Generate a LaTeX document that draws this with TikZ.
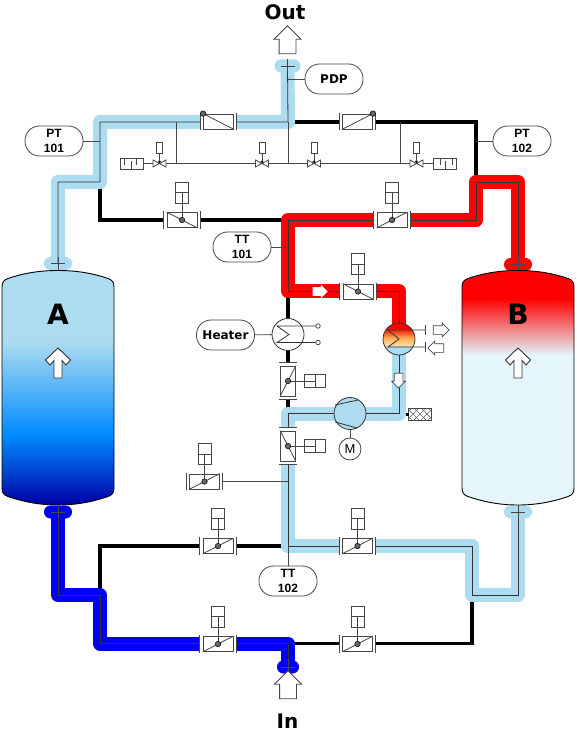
\documentclass[tikz,border=0pt]{standalone}
\usepackage{fontspec}
\setmainfont{Liberation Sans}
\newfontfamily\titlefont{DejaVu Sans}
\usetikzlibrary{positioning,shapes.arrows}

\definecolor{pipelight}{RGB}{173,220,240}
\definecolor{pipered}{RGB}{255,0,0}
\definecolor{pipeblue}{RGB}{0,0,245}
\definecolor{tankpale}{RGB}{228,245,252}
\definecolor{tankmid}{RGB}{0,140,255}
\definecolor{tanknavy}{RGB}{0,0,165}
\definecolor{hxorange}{RGB}{250,170,80}
\definecolor{hxtan}{RGB}{250,220,160}
\definecolor{wire}{RGB}{70,70,70}

\pgfdeclareverticalshading{tankcold}{100bp}{color(0bp)=(tanknavy); color(25bp)=(tanknavy); color(40bp)=(tankmid); color(60bp)=(pipelight); color(100bp)=(pipelight)}
\pgfdeclareverticalshading{tankhot}{100bp}{color(0bp)=(tankpale); color(57bp)=(tankpale); color(69bp)=(pipered); color(100bp)=(pipered)}
\pgfdeclareverticalshading{hxhot}{100bp}{color(0bp)=(pipelight); color(37bp)=(pipelight); color(41bp)=(hxtan); color(52bp)=(hxorange); color(67bp)=(pipered); color(100bp)=(pipered)}

\tikzset{
	pipeband/.style={line width=14pt, line join=round},
	pipeline/.style={line width=.8pt, draw=black!80, line join=miter},
	blackpipe/.style={line width=3.2pt, line join=miter},
	thinline/.style={line width=.8pt, draw=wire},
	valvegap/.style={fill=white, minimum width=36pt, minimum height=17pt, inner sep=0pt},
	valvebody/.style={draw=wire, line width=.8pt, fill=white, minimum width=30pt, minimum height=15pt, inner sep=0pt},
	valvedot/.style={circle, draw=black, fill=black!60, line width=.5pt, minimum size=5.5pt, inner sep=0pt},
	actbox/.style={draw=wire, line width=.8pt, fill=white, minimum width=13pt, minimum height=21pt, inner sep=0pt},
	smallact/.style={draw=wire, line width=.8pt, fill=white, minimum width=6pt, minimum height=11pt, inner sep=0pt},
	silencer/.style={draw=wire, line width=.8pt, fill=white, minimum width=23pt, minimum height=11pt, inner sep=0pt},
	pipecap/.style={rounded corners=6.4pt, minimum height=13pt, inner sep=0pt},
	tagbox/.style={draw=wire, line width=.8pt, fill=white, rounded corners=14.5pt, minimum width=58pt, minimum height=30pt, inner sep=0pt, align=center, font=\fontsize{12}{14.5}\selectfont\bfseries},
	tagwide/.style={tagbox, font=\titlefont\fontsize{12}{14.5}\selectfont\bfseries},
	drum/.style={circle, draw=black!80, line width=.8pt, minimum size=32pt, inner sep=0pt},
	bigarrow/.style={single arrow, draw=wire, line width=.8pt, fill=white, inner xsep=0pt, inner ysep=8pt, minimum height=28pt, single arrow head extend=5pt},
	smallarrow/.style={single arrow, draw=wire, line width=.7pt, fill=white, inner xsep=0pt, inner ysep=4pt, minimum height=15pt, single arrow head extend=2.5pt},
	bigtext/.style={font=\titlefont\fontsize{20}{20}\selectfont\bfseries},
	tanktext/.style={font=\titlefont\fontsize{28}{28}\selectfont\bfseries}
}

\newcommand{\pipe}[2]{\draw[pipeband, draw=#1] #2; \draw[pipeline] #2;}

\begin{document}
\begin{tikzpicture}[x=1pt,y=-1pt]
	\useasboundingbox (0,0) rectangle (577,743);
	\foreach \n/\x/\y/\w/\c in {capout/287.5/66/26/pipelight, capa/58/263.5/28/pipelight, capb/518/264.5/28/pipered, capc/58/512/28/pipeblue, capd/518/512/28/pipelight, capin/288/667/22/pipeblue} \node[pipecap, minimum width=\w pt, fill=\c] (\n) at (\x,\y) {};
	\foreach \n/\x/\y in {cn1/100/122, cn2/100/182, cn3/58/182, cn4/288/122, cn5/476/122, cn6/476/182, cn7/518/182, cn8/476/220, cn9/288/220, cn10/100/220, cn11/288/291, cn12/399/291, cn13/399/413.5, cn14/288/413.5, cn15/288/546, cn16/472/546, cn17/472/595, cn18/518/595, cn19/100/546, cn20/100/595, cn21/58/595, cn22/100/643.5, cn23/288/643.5, cn24/472/643.5, cn25/399/325, cn26/399/353} \coordinate (\n) at (\x,\y);

	\draw[blackpipe] (cn2) -- (cn10) -- (cn9);
	\draw[blackpipe] (cn4) -- (cn5) -- (cn6);
	\draw[blackpipe] (cn11) -- (cn14);
	\draw[blackpipe] (cn20) -- (cn19) -- (cn15);
	\draw[blackpipe] (cn23) -- (cn24) -- (cn17);
	\pipe{pipelight}{(capout.center) -- (cn4) -- (cn1) -- (cn2) -- (cn3) -- (capa.center)}
	\pipe{pipered}{(capb.center) -- (cn7) -- (cn6) -- (cn8) -- (cn9) -- (cn11) -- (cn12) -- (cn25)}
	\pipe{pipelight}{(cn26) -- (cn13) -- (cn14) -- (cn15) -- (cn16) -- (cn17) -- (cn18) -- (capd.center)}
	\pipe{pipeblue}{(capc.center) -- (cn21) -- (cn20) -- (cn22) -- (cn23) -- (capin.center)}
	\foreach \n in {capout,capa,capb,capc,capd,capin} \draw[thinline] (\n.north) -- (\n.south) ([xshift=-7pt]\n.center) -- ([xshift=7pt]\n.center);

	\foreach \n/\x/\s in {a/2/tankcold, b/462/tankhot} {
		\shade[shift={(\x,0)}, shading=\s, draw=black, line width=.9pt] (0,287) .. controls (0,282) and (2,280) .. (6,278.5) .. controls (22,273) and (38,270.5) .. (56,270.5) .. controls (74,270.5) and (90,273) .. (106,278.5) .. controls (110,280) and (112,282) .. (112,287) -- (112,488) .. controls (112,493) and (110,495) .. (106,496.5) .. controls (90,502) and (74,505) .. (56,505) .. controls (38,505) and (22,502) .. (6,496.5) .. controls (2,495) and (0,493) .. (0,488) -- cycle;
	}
	\node[tanktext] (labela) at (58,314) {A};
	\node[tanktext] (labelb) at (518,314) {B};
	\foreach \x in {58,518} \draw[shift={(\x,0)}, draw=black!80, line width=.9pt, fill=white] (0,348) -- (-12.5,360) -- (-8,365) -- (-4,360.5) -- (-4,378) -- (4,378) -- (4,360.5) -- (8,365) -- (12.5,360) -- cycle;

	\node[silencer] (sil1) at (131.5,163.5) {};
	\node[silencer] (sil2) at (444.5,163.5) {};
	\draw[thinline] (sil1) -- (sil2);
	\draw[thinline] (cn4) -- (cn4 |- sil1);
	\foreach \n/\x in {tap1/176, tap2/400} {\coordinate (\n) at (\x,122); \draw[thinline] (\n) -- (\n |- sil1);}
	\foreach \n/\s in {sil1/1, sil2/-1} \draw[thinline, shift={(\n)}, xscale=\s] (-7.5,-5.5) -- ++(0,7) (-0.5,5.5) -- ++(0,-8) (4.5,-5.5) -- ++(0,7);
	\foreach \n/\x in {sv1/159.5, sv2/262, sv3/314, sv4/416.5} {
		\coordinate (\n) at (\x,163.5);
		\node[smallact] (act\n) at (\x,147.5) {};
		\draw[thinline] (act\n) -- (\n);
		\draw[thinline, fill=white, shift={(\n)}] (-6.5,-3.5) -- (6.5,3.5) -- (6.5,-3.5) -- (-6.5,3.5) -- cycle;
		\fill[black, shift={(\n)}] (-1.5,-2.5) -- (1.5,-2.5) -- (0,0) -- cycle;
	}

	\foreach \n/\x/\y/\r/\p/\q in {tl/218.5/121.5/0/north west/south east, tr/357.5/121.5/0/south west/north east, lr/182/220/0/north west/south east, rr/392/220/0/south west/north east, hv/358/291.5/0/north west/south east, br/204.5/481.5/0/south west/north east, ml/218/546/0/south west/north east, mr/357.5/546/0/south west/north east, ll/218/644/0/south west/north east, lq/357.5/644/0/south west/north east, sa/288/381/90/north west/south east, sb/288/446/90/north east/south west} {
		\node[valvegap, rotate=\r] (g\n) at (\x,\y) {};
		\node[valvebody, rotate=\r] (v\n) at (\x,\y) {};
		\draw[thinline] (g\n.north west) -- (g\n.south west) (g\n.north east) -- (g\n.south east);
		\draw[thinline] (v\n.\p) -- (v\n.\q);
	}
	\foreach \n in {lr,rr,hv,br,ml,mr,ll,lq} {
		\node[actbox, above=8.5pt of v\n] (a\n) {};
		\draw[thinline] (a\n.west) -- (a\n.east) (a\n.center) -- (v\n.center);
	}
	\foreach \n in {sa,sb} {
		\node[actbox, rotate=90] (a\n) at ([xshift=27pt]v\n.center) {};
		\draw[thinline] (a\n.west) -- (a\n.east) (a\n.center) -- (v\n.center);
	}
	\foreach \n/\o in {tl/north west, tr/north east, lr/center, rr/center, hv/center, br/center, ml/center, mr/center, ll/center, lq/center, sa/center, sb/center} \node[valvedot] (d\n) at (v\n.\o) {};
	\draw[thinline] (gbr.east) -- (gbr.east -| cn14);

	\node[drum, fill=white] (heater) at (288,334.5) {};
	\draw[thinline, draw=black!80] (316,326) -- (277,326) -- (289,334.5) -- (277,342.5) -- (316,342.5);
	\foreach \n/\y in {ta/326, tb/342.5} \node[circle, draw=wire, fill=white, line width=.8pt, minimum size=4.5pt, inner sep=0pt] (\n) at (318,\y) {};
	\node[drum, shading=hxhot] (cooler) at (399,339) {};
	\draw[thinline, draw=black!80] (425,330) -- (388,330) -- (399,339) -- (388,347) -- (425,347);
	\draw[thinline] (425,325) -- (425,335) (425,342) -- (425,352);

	\node[drum, fill=pipelight] (comp) at (350,413.5) {};
	\draw[thinline, draw=black!80] (335,405) -- (358,400) (335,422) -- (357,428);
	\node[drum, minimum size=22pt, fill=white, draw=wire, font=\fontsize{13}{13}\selectfont] (motor) at (350,449) {M};
	\draw[thinline] (comp) -- (motor);
	\node[draw=wire, line width=.8pt, fill=white, minimum width=23pt, minimum height=12pt, inner sep=0pt, path picture={
		\foreach \k in {-21,-14,...,21} \draw[black!60, line width=.6pt] ([xshift=\k pt]path picture bounding box.center) ++(-7,-7) -- ++(14,14) ++(0,-14) -- ++(-14,14);
	}] (filter) at (420,414) {};
	\node[fill=black, minimum size=3pt, inner sep=0pt] (plug) at (407,414) {};

	\node[smallarrow, draw=none] (ar1) at (318,291.5) {};
	\node[smallarrow, rotate=-90] (ar2) at (398.5,378.5) {};
	\node[smallarrow, minimum height=16pt] (ar3) at (439,330) {};
	\node[smallarrow, minimum height=16pt, rotate=180] (ar4) at (438,348) {};
	\node[bigarrow, rotate=90] (arout) at (287.5,44) {};
	\node[bigarrow, rotate=90] (arin) at (288,689) {};
	\node[bigtext] (out) at (285,12) {Out};
	\node[bigtext] (in) at (287.5,721) {In};

	\node[tagbox] (pt101) at (54,141) {PT\\101};
	\node[tagbox] (pt102) at (522,141) {PT\\102};
	\node[tagbox] (tt101) at (242,247) {TT\\101};
	\node[tagbox] (tt102) at (288,581) {TT\\102};
	\node[tagwide] (pdp) at (334,79) {PDP};
	\node[tagwide] (htr) at (225.5,335) {Heater};
	\draw[thinline] (pt101) -- (pt101 -| cn1);
	\draw[thinline] (pt102) -- (pt102 -| cn5);
	\draw[thinline] (tt101) -- (tt101 -| cn9);
	\draw[thinline] (tt102) -- (tt102 |- cn15);
	\draw[thinline] (pdp) -- (pdp -| cn4);
	\draw[thinline] (htr) -- (heater);
\end{tikzpicture}
\end{document}
